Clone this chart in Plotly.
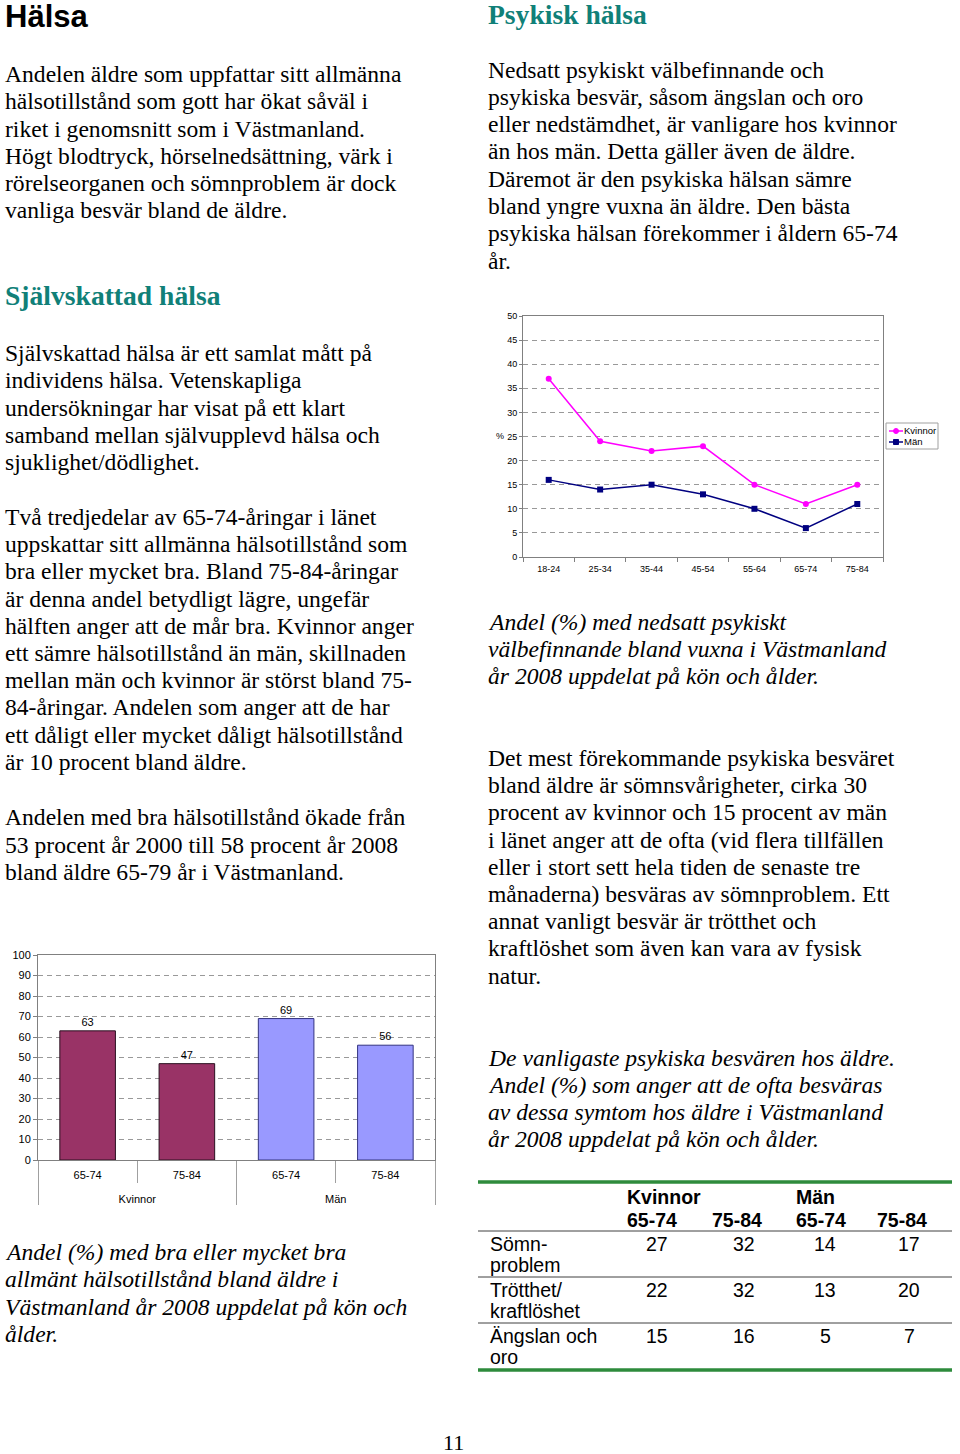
import plotly.graph_objects as go

W, H = 960, 1454
def fx(x): return x / W
def fy(y): return 1 - y / H

SERIF = "Liberation Serif"
SANS = "Liberation Sans"
TEAL = "#108078"
BODY = 23.6
STEP = 27.3

# ---------------- Data ----------------
# Line chart: Andel (%) med nedsatt psykiskt välbefinnande
age_groups = ["18-24", "25-34", "35-44", "45-54", "55-64", "65-74", "75-84"]
kvinnor_psyk = [37, 24, 22, 23, 15, 11, 15]
man_psyk = [16, 14, 15, 13, 10, 6, 11]

# Bar chart: Andel (%) med bra eller mycket bra allmänt hälsotillstånd
bar_gender = ["Kvinnor", "Kvinnor", "Män", "Män"]
bar_age = ["65-74", "75-84", "65-74", "75-84"]
bar_values = [63, 47, 69, 56]
bar_colors = ["#993366", "#993366", "#9999FF", "#9999FF"]
bar_edges = ["#2a1020", "#2a1020", "#333380", "#333380"]

# Table: vanligaste psykiska besvären
symptoms = [("Sömn-", "problem"), ("Trötthet/", "kraftlöshet"), ("Ängslan och", "oro")]
kv_65_74 = [27, 22, 15]
kv_75_84 = [32, 32, 16]
man_65_74 = [14, 13, 5]
man_75_84 = [17, 20, 7]
table_groups = ["Kvinnor", "", "Män", ""]
table_ages = ["65-74", "75-84", "65-74", "75-84"]

fig = go.Figure()

# ---------------- Line chart ----------------
fig.add_trace(go.Scatter(
    x=age_groups, y=kvinnor_psyk, name="Kvinnor", mode="lines+markers",
    line=dict(color="#FF00FF", width=1.5),
    marker=dict(symbol="circle", size=6, color="#FF00FF"),
    xaxis="x", yaxis="y", showlegend=False, cliponaxis=False))
fig.add_trace(go.Scatter(
    x=age_groups, y=man_psyk, name="Män", mode="lines+markers",
    line=dict(color="#000080", width=1.5),
    marker=dict(symbol="square", size=6, color="#000080"),
    xaxis="x", yaxis="y", showlegend=False, cliponaxis=False))

# ---------------- Bar chart ----------------
# group labels are pushed one text line down so they sit below the age labels
group_level = ["<br>" + g for g in bar_gender]
fig.add_trace(go.Bar(
    x=[group_level, bar_age], y=bar_values,
    marker=dict(color=bar_colors, line=dict(color=bar_edges, width=1)),
    text=bar_values, textposition="outside",
    textfont=dict(family=SANS, size=11, color="black"),
    cliponaxis=False, xaxis="x2", yaxis="y2", showlegend=False))

grid = dict(showgrid=True, gridcolor="#999999", gridwidth=1, griddash="5px,4px")

layout = dict(
    width=W, height=H, margin=dict(l=0, r=0, t=0, b=0, autoexpand=False),
    paper_bgcolor="white", plot_bgcolor="white", bargap=0.44, showlegend=False,
    xaxis=dict(domain=[fx(523), fx(883)], anchor="y", type="category",
               range=[-0.5, 6.5], tickson="boundaries", ticks="outside", ticklen=4,
               tickcolor="#808080", showline=True, linecolor="#808080", mirror=True,
               showgrid=False, automargin=False, ticklabelstandoff=3,
               tickfont=dict(family=SANS, size=9, color="black")),
    yaxis=dict(domain=[fy(557), fy(316)], anchor="x", range=[0, 50], dtick=5,
               showline=True, linecolor="#808080", mirror=True, ticks="outside",
               ticklen=3, tickcolor="#808080", zeroline=False, automargin=False,
               tickfont=dict(family=SANS, size=9, color="black"), **grid),
    xaxis2=dict(domain=[fx(38), fx(435)], anchor="y2", type="multicategory",
                tickson="boundaries", ticks="outside", ticklen=22, tickcolor="#a0a0a0",
                showdividers=True, dividercolor="#a0a0a0", dividerwidth=1,
                ticklabelstandoff=5, automargin=False,
                showline=True, linecolor="#808080", mirror=True, showgrid=False,
                tickfont=dict(family=SANS, size=11, color="black")),
    yaxis2=dict(domain=[fy(1160), fy(955)], anchor="x2", range=[0, 100], dtick=10,
                showline=True, linecolor="#808080", mirror=True, ticks="outside",
                ticklen=4, tickcolor="#808080", zeroline=False, automargin=False,
                tickfont=dict(family=SANS, size=11, color="black"), **grid),
)
fig.update_layout(**layout)

annotations = []
def txt(s, x, y, size=BODY, family=SERIF, color="black", xanchor="left"):
    annotations.append(dict(
        text=s, x=fx(x), y=fy(y), xref="paper", yref="paper",
        xanchor=xanchor, yanchor="middle", align="left", showarrow=False,
        font=dict(family=family, size=size, color=color)))

def block(lines, x, y_first, step=STEP, italic=False, **kw):
    for i, l in enumerate(lines):
        txt(f"<i>{l}</i>" if italic else l, x, y_first + i * step, **kw)

# Left column
txt("<b>Hälsa</b>", 3, 16, size=31, family=SANS)
block(["Andelen äldre som uppfattar sitt allmänna",
       "hälsotillstånd som gott har ökat såväl i",
       "riket i genomsnitt som i Västmanland.",
       "Högt blodtryck, hörselnedsättning, värk i",
       "rörelseorganen och sömnproblem är dock",
       "vanliga besvär bland de äldre."], 3, 74)
txt("<b>Självskattad hälsa</b>", 3, 295, size=27.6, color=TEAL)
block(["Självskattad hälsa är ett samlat mått på",
       "individens hälsa. Vetenskapliga",
       "undersökningar har visat på ett klart",
       "samband mellan självupplevd hälsa och",
       "sjuklighet/dödlighet."], 3, 353)
block(["Två tredjedelar av 65-74-åringar i länet",
       "uppskattar sitt allmänna hälsotillstånd som",
       "bra eller mycket bra. Bland 75-84-åringar",
       "är denna andel betydligt lägre, ungefär",
       "hälften anger att de mår bra. Kvinnor anger",
       "ett sämre hälsotillstånd än män, skillnaden",
       "mellan män och kvinnor är störst bland 75-",
       "84-åringar. Andelen som anger att de har",
       "ett dåligt eller mycket dåligt hälsotillstånd",
       "är 10 procent bland äldre."], 3, 517, step=27.2)
block(["Andelen med bra hälsotillstånd ökade från",
       "53 procent år 2000 till 58 procent år 2008",
       "bland äldre 65-79 år i Västmanland."], 3, 817.5, step=27.1)
block(["Andel (%) med bra eller mycket bra",
       "allmänt hälsotillstånd bland äldre i",
       "Västmanland år 2008 uppdelat på kön och",
       "ålder."], 3, 1252, italic=True)

# Right column
txt("<b>Psykisk hälsa</b>", 486, 14, size=27.6, color=TEAL)
block(["Nedsatt psykiskt välbefinnande och",
       "psykiska besvär, såsom ängslan och oro",
       "eller nedstämdhet, är vanligare hos kvinnor",
       "än hos män. Detta gäller även de äldre.",
       "Däremot är den psykiska hälsan sämre",
       "bland yngre vuxna än äldre. Den bästa",
       "psykiska hälsan förekommer i åldern 65-74",
       "år."], 486, 69.5)
block(["Andel (%) med nedsatt psykiskt",
       "välbefinnande bland vuxna i Västmanland",
       "år 2008 uppdelat på kön och ålder."], 486, 622, italic=True, step=27.1)
block(["Det mest förekommande psykiska besväret",
       "bland äldre är sömnsvårigheter, cirka 30",
       "procent av kvinnor och 15 procent av män",
       "i länet anger att de ofta (vid flera tillfällen",
       "eller i stort sett hela tiden de senaste tre",
       "månaderna) besväras av sömnproblem. Ett",
       "annat vanligt besvär är trötthet och",
       "kraftlöshet som även kan vara av fysisk",
       "natur."], 486, 758, step=27.2)
block(["De vanligaste psykiska besvären hos äldre.",
       "Andel (%) som anger att de ofta besväras",
       "av dessa symtom hos äldre i Västmanland",
       "år 2008 uppdelat på kön och ålder."], 486, 1058, italic=True, step=27.1)

# Page number
txt("11", 453, 1442, size=22, xanchor="center")

# "%" label of line chart
txt("%", 500, 436, size=9, family=SANS, xanchor="center")

shapes = []
# Legend of line chart (compact box)
shapes.append(dict(type="rect", xref="paper", yref="paper",
                   x0=fx(886), x1=fx(938), y0=fy(449), y1=fy(423),
                   line=dict(color="#a0a0a0", width=1), fillcolor="white"))
for yy, col, sym, name in [(431, "#FF00FF", "circle", "Kvinnor"), (442, "#000080", "square", "Män")]:
    shapes.append(dict(type="line", xref="paper", yref="paper",
                       x0=fx(889), x1=fx(903), y0=fy(yy), y1=fy(yy),
                       line=dict(color=col, width=1.5)))
    shapes.append(dict(type="circle" if sym == "circle" else "rect", xref="paper", yref="paper",
                       x0=fx(893.5), x1=fx(898.5), y0=fy(yy + 2.5), y1=fy(yy - 2.5),
                       line=dict(color=col, width=1), fillcolor=col))
    txt(name, 902, yy, size=9.5, family=SANS)

# ---------------- Table ----------------
T_X0, T_X1 = 478, 952
label_x = 488
col_left = [625, 710, 794, 875]
col_center = [657, 744, 825, 909]
row_tops = [1231, 1277, 1323]
for g, a, xl in zip(table_groups, table_ages, col_left):
    if g:
        txt(f"<b>{g}</b>", xl, 1197, size=19.5, family=SANS)
    txt(f"<b>{a}</b>", xl, 1220, size=19.5, family=SANS)
columns = [kv_65_74, kv_75_84, man_65_74, man_75_84]
for r, (lab, top) in enumerate(zip(symptoms, row_tops)):
    txt(lab[0], label_x, top + 12.5, size=19.5, family=SANS)
    txt(lab[1], label_x, top + 34, size=19.5, family=SANS)
    for c, xc in enumerate(col_center):
        txt(str(columns[c][r]), xc, top + 12.5, size=19.5, family=SANS, xanchor="center")

shapes.append(dict(type="line", xref="paper", yref="paper", x0=fx(T_X0), x1=fx(T_X1),
                   y0=fy(1182), y1=fy(1182), line=dict(color="#2e8b3c", width=3.5)))
shapes.append(dict(type="line", xref="paper", yref="paper", x0=fx(T_X0), x1=fx(T_X1),
                   y0=fy(1370), y1=fy(1370), line=dict(color="#2e8b3c", width=3.5)))
for yy in row_tops:
    shapes.append(dict(type="line", xref="paper", yref="paper", x0=fx(T_X0), x1=fx(T_X1),
                       y0=fy(yy), y1=fy(yy), line=dict(color="#404040", width=1)))

fig.update_layout(annotations=annotations, shapes=shapes)
fig.write_html("out.html", config={"displayModeBar": False},
               post_script="document.body.style.margin='0';document.body.style.padding='0';")
